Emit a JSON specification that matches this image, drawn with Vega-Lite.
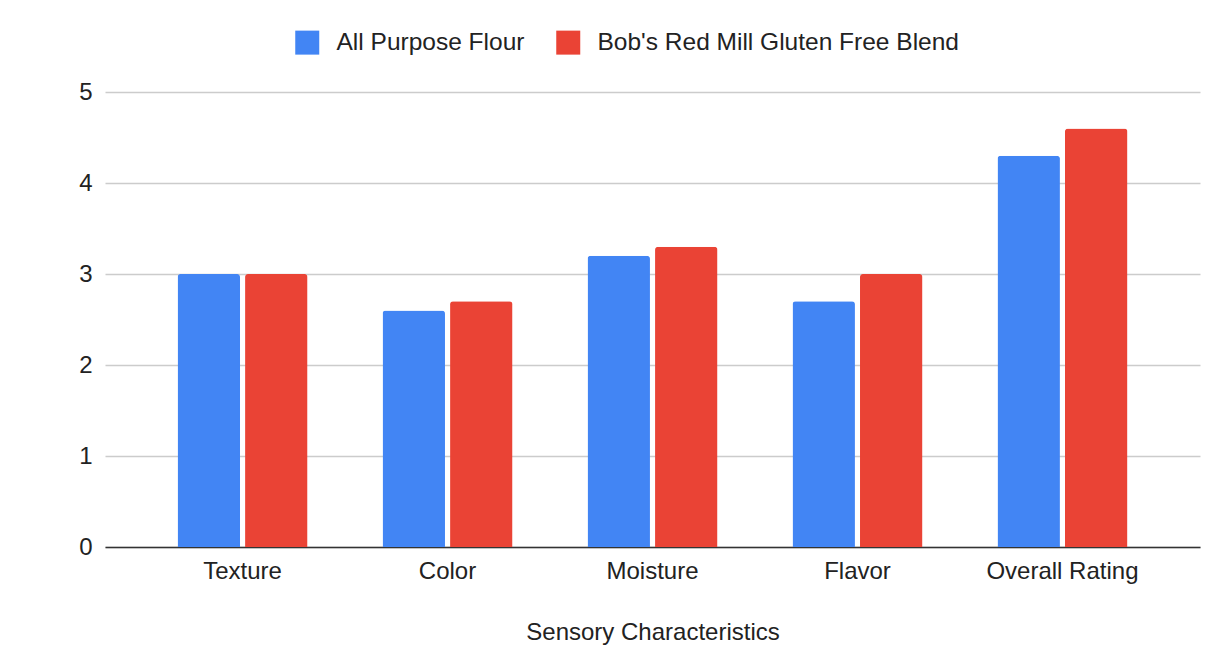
{
  "$schema": "https://vega.github.io/schema/vega-lite/v6.json",
  "autosize": "none",
  "width": 1095,
  "height": 455,
  "padding": {"left": 105, "top": 92, "right": 11, "bottom": 99},
  "background": "white",
  "data": {
    "values": [
      {"characteristic": "Texture", "flour": "All Purpose Flour", "score": 3.0},
      {"characteristic": "Texture", "flour": "Bob's Red Mill Gluten Free Blend", "score": 3.0},
      {"characteristic": "Color", "flour": "All Purpose Flour", "score": 2.6},
      {"characteristic": "Color", "flour": "Bob's Red Mill Gluten Free Blend", "score": 2.7},
      {"characteristic": "Moisture", "flour": "All Purpose Flour", "score": 3.2},
      {"characteristic": "Moisture", "flour": "Bob's Red Mill Gluten Free Blend", "score": 3.3},
      {"characteristic": "Flavor", "flour": "All Purpose Flour", "score": 2.7},
      {"characteristic": "Flavor", "flour": "Bob's Red Mill Gluten Free Blend", "score": 3.0},
      {"characteristic": "Overall Rating", "flour": "All Purpose Flour", "score": 4.3},
      {"characteristic": "Overall Rating", "flour": "Bob's Red Mill Gluten Free Blend", "score": 4.6}
    ]
  },
  "mark": {"type": "bar", "cornerRadiusTopLeft": 3, "cornerRadiusTopRight": 3},
  "encoding": {
    "x": {
      "field": "characteristic",
      "type": "nominal",
      "sort": ["Texture", "Color", "Moisture", "Flavor", "Overall Rating"],
      "scale": {"paddingInner": 0.366, "paddingOuter": 0.354},
      "axis": {
        "title": "Sensory Characteristics",
        "labelAngle": 0,
        "labelFontSize": 24,
        "labelColor": "#222222",
        "labelPadding": 12,
        "ticks": false,
        "domainColor": "#333333",
        "domainWidth": 1.5,
        "titleFontSize": 24,
        "titleFontWeight": "normal",
        "titleColor": "#222222",
        "titlePadding": 37
      }
    },
    "xOffset": {
      "field": "flour",
      "type": "nominal",
      "scale": {"paddingInner": 0.075, "paddingOuter": 0}
    },
    "y": {
      "field": "score",
      "type": "quantitative",
      "scale": {"domain": [0, 5]},
      "axis": {
        "title": null,
        "values": [0, 1, 2, 3, 4, 5],
        "labelOverlap": false,
        "labelFlush": false,
        "labelFontSize": 24,
        "labelColor": "#222222",
        "labelPadding": 13,
        "ticks": false,
        "domain": false,
        "gridColor": "#cccccc",
        "gridWidth": 1.5
      }
    },
    "color": {
      "field": "flour",
      "type": "nominal",
      "scale": {"range": ["#4285F4", "#EA4335"]},
      "legend": {
        "title": null,
        "orient": "none",
        "direction": "horizontal",
        "legendX": 190,
        "legendY": -62,
        "symbolType": "square",
        "symbolSize": 576,
        "symbolStrokeWidth": 0,
        "symbolOpacity": 1,
        "labelFontSize": 24.5,
        "labelColor": "#222222",
        "labelOffset": 17,
        "labelLimit": 500,
        "columnPadding": 31
      }
    }
  },
  "config": {
    "font": "Liberation Sans",
    "view": {"stroke": null}
  }
}
